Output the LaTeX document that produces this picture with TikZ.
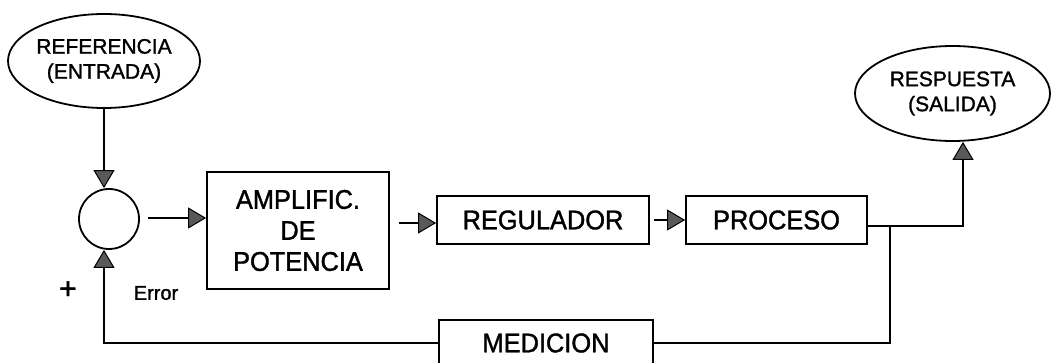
\documentclass[tikz,border=0pt]{standalone}
\usepackage{fontspec}
\setmainfont[FakeBold=1.4]{Liberation Sans}
\newfontfamily\boxfont[FakeStretch=0.94,FakeBold=1.4]{Liberation Sans}
\usetikzlibrary{shapes.geometric,arrows.meta,calc}
\begin{document}
\begin{tikzpicture}[x=1pt,y=-1pt, line width=1.8pt,
  blk/.style={draw, rectangle, inner sep=0pt, align=center, font=\boxfont\fontsize{27}{31}\selectfont},
  ell/.style={draw, ellipse, inner sep=0pt, align=center, font=\fontsize{21}{25}\selectfont},
  arr/.style={-{Triangle[length=18pt,width=21pt,fill=black!65,line width=1pt]}},
  lbl/.style={inner sep=0pt}
]
\useasboundingbox (0,0) rectangle (1051,363);
\clip (0,0) rectangle (1051,363);

\node[ell, minimum width=192pt, minimum height=94pt] (ref) at (104,61) {REFERENCIA\\(ENTRADA)};
\node[ell, minimum width=195pt, minimum height=95pt] (resp) at (952.5,93.5) {RESPUESTA\\(SALIDA)};
\node[draw, circle, minimum size=60pt, inner sep=0pt] (sum) at (109,219) {};

\node[blk, minimum width=182pt, minimum height=117pt] (amp) at (298,230.5) {AMPLIFIC.\\DE\\POTENCIA};
\node[blk, minimum width=212pt, minimum height=48pt] (reg) at (543,220) {REGULADOR};
\node[blk, minimum width=181pt, minimum height=48pt] (proc) at (776.5,220) {PROCESO};
\node[blk, minimum width=214pt, minimum height=46pt] (med) at (546,343) {MEDICION};

\node[lbl, font=\fontsize{20}{22}\selectfont] (err) at (156,293) {Error};
\node[lbl, font=\fontsize{30}{32}\selectfont] (plus) at (68,290) {+};

\coordinate (br) at (890,226);

\draw[arr] (ref.south) -- (ref.south |- sum.north);
\draw[arr, shorten <=8pt] ([yshift=1pt]sum.east) -- ([yshift=1pt]sum.east -| amp.west);
\draw[arr, shorten <=9pt] ([yshift=-3pt]reg.west -| amp.east) -- ([yshift=-3pt]reg.west);
\draw[arr, shorten <=4pt] (reg.east) -- (proc.west);
\draw[arr] ([yshift=-6pt]proc.east) -| ([xshift=10.5pt]resp.south);
\draw (br) |- (med.east);
\draw[arr] (med.west) -| ([xshift=-5pt]sum.south);
\end{tikzpicture}
\end{document}
